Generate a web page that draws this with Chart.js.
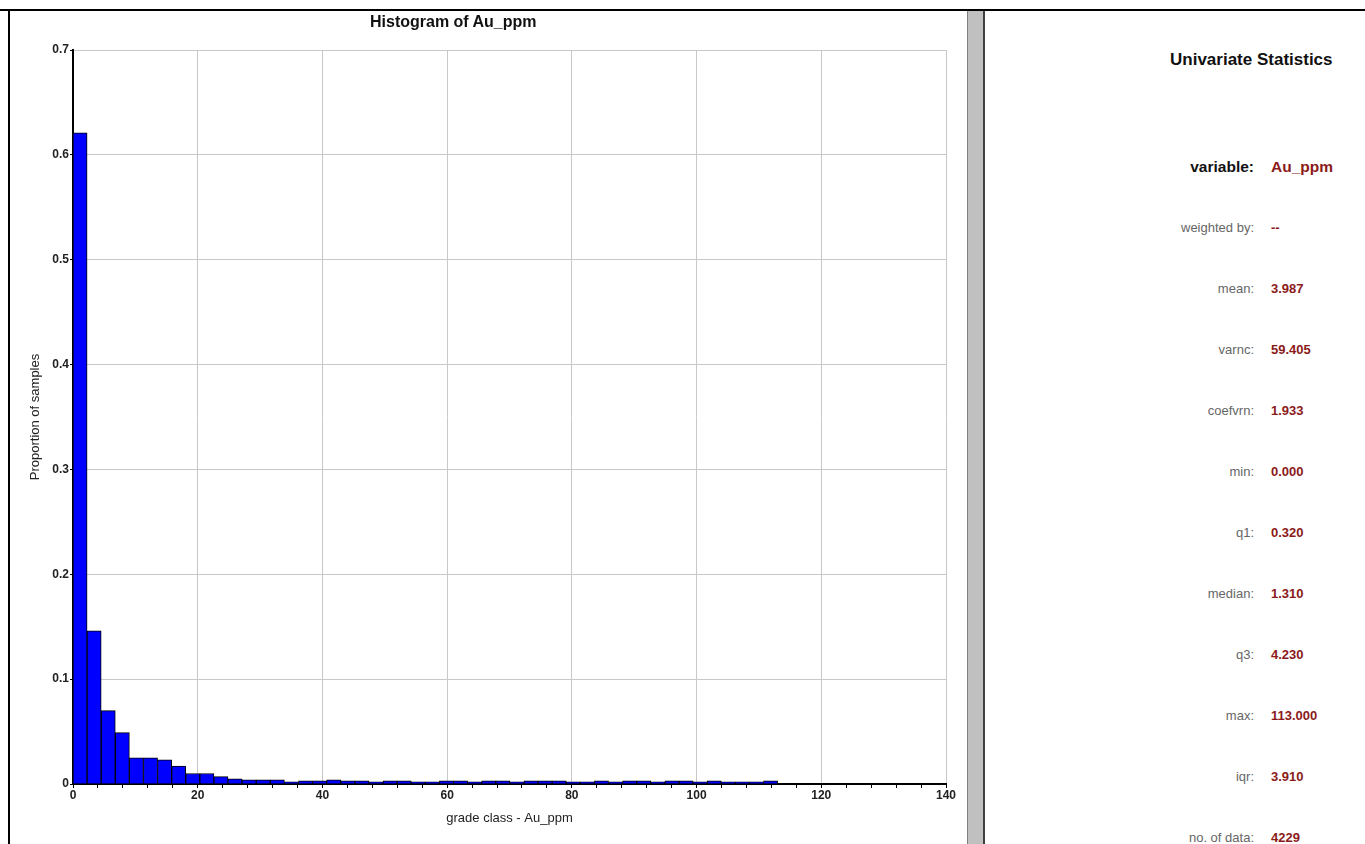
<!DOCTYPE html>
<html>
<head>
<meta charset="utf-8">
<script src="https://cdn.jsdelivr.net/npm/chart.js"></script>
<style>
  body { margin: 0; background: #fff; font-family: "Liberation Sans", Arial, sans-serif; }
  #page { position: relative; width: 1365px; height: 844px; overflow: hidden; }
  #topline { position: absolute; left: 0; top: 9px; width: 1365px; height: 2px; background: #000; }
  #leftline { position: absolute; left: 8px; top: 9px; width: 2px; height: 835px; background: #000; }
  #divider { position: absolute; left: 967px; top: 11px; width: 15px; height: 833px; background: #c0c0c0;
             border-left: 1px solid #808080; border-right: 2px solid #404040; }
  #chartBox { position: absolute; left: 12px; top: 12px; width: 950px; height: 832px; }
  #chartTitle { position: absolute; left: 370px; top: 13px; font-size: 16px; font-weight: bold; color: #111; white-space: nowrap; }
  #stats { position: absolute; left: 990px; top: 0; width: 375px; height: 844px; }
  .row { position: absolute; left: 0; width: 375px; height: 18px; line-height: 18px; font-size: 13px; }
  .lab { position: absolute; right: 111px; color: #666; }
  .val { position: absolute; left: 281px; color: #8b1a1a; font-weight: bold; }
  .big { font-size: 15.5px; font-weight: bold; }
  .big .lab { color: #111; }
  #stTitle { position: absolute; left: 180px; top: 50px; font-size: 17px; font-weight: bold; color: #111; white-space: nowrap; }
</style>
</head>
<body>
<div id="page">
  <div id="topline"></div>
  <div id="leftline"></div>
  <div id="chartBox"><canvas id="histChart"></canvas></div>
  <div id="chartTitle">Histogram of Au_ppm</div>
  <div id="divider"></div>
  <div id="stats">
    <div id="stTitle">Univariate Statistics</div>
  </div>
</div>
<script>
// histogram of Au_ppm: 50 classes of width 2.26 from 0 to 113
var binWidth = 2.26;
var proportions = [
  0.621, 0.146, 0.070, 0.049, 0.025, 0.025, 0.023, 0.017, 0.010, 0.010,
  0.007, 0.005, 0.004, 0.004, 0.004, 0.002, 0.003, 0.003, 0.004, 0.003,
  0.003, 0.002, 0.003, 0.003, 0.002, 0.002, 0.003, 0.003, 0.002, 0.003,
  0.003, 0.002, 0.003, 0.003, 0.003, 0.002, 0.002, 0.003, 0.002, 0.003,
  0.003, 0.002, 0.003, 0.003, 0.002, 0.003, 0.002, 0.002, 0.002, 0.003
];
var xMax = 140;
var yMax = 0.7;

var statLabels = ['variable:', 'weighted by:', 'mean:', 'varnc:', 'coefvrn:', 'min:', 'q1:', 'median:', 'q3:', 'max:', 'iqr:', 'no. of data:'];
var statValues = ['Au_ppm', '--', '3.987', '59.405', '1.933', '0.000', '0.320', '1.310', '4.230', '113.000', '3.910', '4229'];

// stats panel
var stats = document.getElementById('stats');
statLabels.forEach(function (lab, i) {
  var row = document.createElement('div');
  row.className = 'row' + (i === 0 ? ' big' : '');
  row.style.top = (158 + i * 61) + 'px';
  row.innerHTML = '<span class="lab">' + lab + '</span><span class="val">' + statValues[i] + '</span>';
  stats.appendChild(row);
});

var points = proportions.map(function (p, i) {
  return { x: binWidth * (i + 0.5), y: p };
});

var ctx = document.getElementById('histChart').getContext('2d');
var histChart = new Chart(ctx, {
  type: 'bar',
  data: {
    datasets: [{
      label: 'Au_ppm',
      data: points,
      backgroundColor: '#0000ff',
      borderColor: '#000',
      borderWidth: 1,
      barPercentage: 1,
      categoryPercentage: 1
    }]
  },
  options: {
    responsive: true,
    maintainAspectRatio: false,
    animation: false,
    layout: { padding: { left: 0, right: 16, top: 38, bottom: 12 } },
    plugins: {
      legend: { display: false },
      tooltip: { enabled: false },
      title: { display: false }
    },
    scales: {
      x: {
        type: 'linear',
        min: 0,
        max: xMax,
        offset: false,
        afterFit: function (s) { s.height = 48; },
        border: { display: true, color: '#000', width: 2 },
        grid: {
          offset: false,
          color: function (c) { return (c.tick && c.tick.value % 20 === 0 && c.tick.value > 0) ? '#c8c8c8' : 'rgba(0,0,0,0)'; },
          tickColor: '#000',
          tickLength: 4,
          lineWidth: 1
        },
        ticks: {
          stepSize: 4,
          autoSkip: false,
          maxRotation: 0,
          padding: 0,
          color: '#222',
          font: { family: 'Liberation Sans', size: 12, weight: 'bold' },
          callback: function (v) { return v % 20 === 0 ? v : ''; }
        },
        title: {
          display: true,
          text: 'grade class - Au_ppm',
          color: '#222',
          font: { family: 'Liberation Sans', size: 13 },
          padding: { top: 4, bottom: 6 }
        }
      },
      y: {
        min: 0,
        max: yMax,
        afterFit: function (s) { s.width = 61; },
        border: { display: true, color: '#000', width: 2 },
        grid: {
          color: function (c) { return (c.tick && c.tick.value > 0) ? '#c8c8c8' : 'rgba(0,0,0,0)'; },
          tickColor: '#000',
          tickLength: 3
        },
        ticks: {
          stepSize: 0.1,
          padding: 1,
          color: '#222',
          font: { family: 'Liberation Sans', size: 12, weight: 'bold' },
          callback: function (v) { return Math.round(v * 10) / 10; }
        },
        title: {
          display: true,
          text: 'Proportion of samples',
          color: '#222',
          font: { family: 'Liberation Sans', size: 13 },
          padding: { top: 16, bottom: 0 }
        }
      }
    }
  }
});
</script>
</body>
</html>
